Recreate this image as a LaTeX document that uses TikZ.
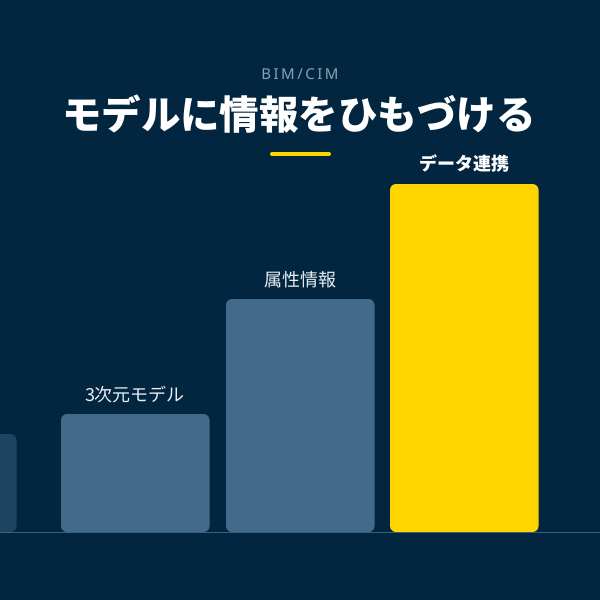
\documentclass[tikz,border=0pt]{standalone}
\usepackage{fontspec}
\newfontfamily\jp{Noto Sans CJK JP}
\newfontfamily\lat{Noto Sans}
\definecolor{bgnavy}{HTML}{022640}
\definecolor{barblue}{HTML}{426B8A}
\definecolor{bardark}{HTML}{1D4560}
\definecolor{baryellow}{HTML}{FFD500}
\definecolor{linegray}{HTML}{3A5E7C}
\definecolor{subgray}{HTML}{8CA0B3}
\definecolor{labelwhite}{HTML}{E8EEF3}
\tikzset{
  bar/.style={fill=barblue, rounded corners=6pt, draw=none},
  barlabel/.style={text=labelwhite, font=\jp\fontsize{18}{20}\selectfont, anchor=base},
}
\begin{document}
\begin{tikzpicture}[x=1pt,y=-1pt]
\fill[bgnavy] (0,0) rectangle (600,600);
\useasboundingbox (0,0) rectangle (600,600);
% subtitle
\node (sub) at (300,74) {\lat\color{subgray}\fontsize{15}{17}\selectfont B\,I\,M\,/\,C\,I\,M};
% title
\node (title) at (299,114) {\jp\bfseries\color{white}\fontsize{39.5}{46}\selectfont モデルに情報をひもづける};
% accent
\draw[baryellow, line width=4pt, line cap=round] (272,154) coordinate (ya) -- (329,154) coordinate (yb);
% bars
\begin{scope}
\clip (0,0) rectangle (600,600);
\fill[bar, fill=bardark] (-40,434) rectangle (16.5,532);
\end{scope}
\fill[bar] (61,414) rectangle (209.5,532);
\fill[bar] (226,299) rectangle (374.5,532);
\fill[bar, fill=baryellow] (390,184) rectangle (538.5,532);
% baseline
\draw[linegray, line width=1.5pt] (0,532.5) coordinate (l0) -- (600,532.5) coordinate (l1);
% labels
\node[barlabel] (l1t) at (135,401) {3次元モデル};
\node[barlabel] (l2t) at (300,286) {属性情報};
\node[barlabel, text=white, font=\jp\bfseries\fontsize{18}{20}\selectfont] (l3t) at (464,170) {データ連携};
\end{tikzpicture}
\end{document}
